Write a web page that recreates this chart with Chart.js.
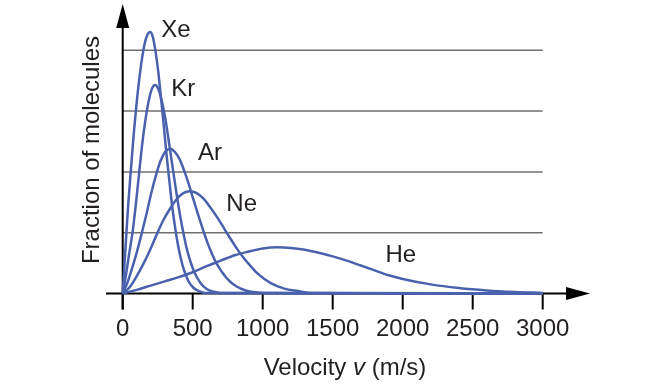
<!DOCTYPE html>
<html>
<head>
<meta charset="utf-8">
<script src="https://cdn.jsdelivr.net/npm/chart.js@4/dist/chart.umd.min.js"></script>
<style>
  html, body { margin: 0; padding: 0; background: #fff; }
  canvas { display: block; }
</style>
</head>
<body>
<canvas id="speedChart" width="650" height="386"></canvas>
<script>
// Velocity ticks on the x axis (m/s)
const velocityTicks = [0, 500, 1000, 1500, 2000, 2500, 3000];
// Horizontal reference lines (arbitrary fraction units)
const gridLevels = [1, 2, 3, 4];

const gases = ["Xe", "Kr", "Ar", "Ne", "He"];

// Velocity (m/s) vs fraction of molecules
const xeSpeeds = [0, 20, 39, 59, 78, 98, 117, 137, 156, 176, 195, 215, 234, 254, 273, 293, 312, 332, 351, 371, 390, 429, 468, 507, 546, 585, 3000];
const xeFractions = [0, 0.75, 1.45, 2.05, 2.6, 3.1, 3.5, 3.85, 4.1, 4.25, 4.3, 4.22, 3.99, 3.65, 3.23, 2.77, 2.31, 1.88, 1.48, 1.14, 0.86, 0.45, 0.21, 0.09, 0.04, 0.01, 0];

const krSpeeds = [0, 23, 46, 70, 93, 116, 139, 162, 186, 209, 232, 255, 278, 302, 325, 348, 371, 394, 418, 441, 464, 510, 557, 603, 650, 696, 3000];
const krFractions = [0, 0.3, 0.65, 1.0, 1.45, 1.95, 2.45, 2.85, 3.17, 3.37, 3.43, 3.36, 3.18, 2.91, 2.57, 2.21, 1.85, 1.5, 1.18, 0.91, 0.68, 0.36, 0.17, 0.07, 0.03, 0.01, 0];

const arSpeeds = [0, 34, 68, 101, 135, 169, 203, 237, 270, 304, 338, 372, 406, 439, 473, 507, 541, 575, 608, 642, 676, 744, 811, 879, 946, 1014, 3000];
const arFractions = [0, 0.18, 0.42, 0.68, 0.98, 1.3, 1.64, 1.94, 2.18, 2.33, 2.38, 2.33, 2.21, 2.02, 1.79, 1.53, 1.28, 1.04, 0.82, 0.63, 0.47, 0.25, 0.12, 0.05, 0.02, 0.01, 0];

const neSpeeds = [0, 48, 96, 144, 192, 241, 289, 337, 385, 433, 481, 529, 577, 625, 673, 722, 770, 818, 866, 914, 962, 1058, 1154, 1251, 1347, 1443, 3000];
const neFractions = [0, 0.1, 0.27, 0.47, 0.7, 0.96, 1.2, 1.39, 1.55, 1.65, 1.68, 1.65, 1.56, 1.42, 1.26, 1.08, 0.9, 0.73, 0.58, 0.45, 0.33, 0.17, 0.08, 0.04, 0.01, 0.01, 0];

const heSpeeds = [0, 100, 200, 300, 400, 500, 600, 700, 800, 900, 1000, 1100, 1200, 1300, 1400, 1500, 1600, 1700, 1800, 1900, 2000, 2200, 2400, 2600, 2800, 3000];
const heFractions = [0, 0.06, 0.13, 0.2, 0.27, 0.35, 0.45, 0.54, 0.63, 0.69, 0.74, 0.76, 0.75, 0.72, 0.67, 0.61, 0.54, 0.46, 0.38, 0.3, 0.24, 0.15, 0.09, 0.05, 0.025, 0.01];

const seriesSpeeds = [xeSpeeds, krSpeeds, arSpeeds, neSpeeds, heSpeeds];
const seriesFractions = [xeFractions, krFractions, arFractions, neFractions, heFractions];

const FONT = '"Liberation Sans", Arial, sans-serif';
const TEXT = "#231f20";
const CURVE = "#4a62ad";

// where each gas name sits, in chart units
const labelSpots = {
  Xe: [381, 4.32],
  Kr: [433, 3.35],
  Ar: [624, 2.3],
  Ne: [850, 1.47],
  He: [1986, 0.62]
};

const axesPlugin = {
  id: "axesPlugin",
  beforeDatasetsDraw(chart) {
    const { ctx, scales: { x, y } } = chart;
    const x0 = x.getPixelForValue(0);
    const y0 = y.getPixelForValue(0);

    ctx.save();
    // grid lines
    ctx.strokeStyle = "#6f6f6f";
    ctx.lineWidth = 1.5;
    gridLevels.forEach(level => {
      const py = y.getPixelForValue(level);
      ctx.beginPath();
      ctx.moveTo(x0, py);
      ctx.lineTo(x.getPixelForValue(3000), py);
      ctx.stroke();
    });

    // axes
    ctx.strokeStyle = "#000";
    ctx.fillStyle = "#000";
    ctx.lineWidth = 2;
    ctx.beginPath();
    ctx.moveTo(106, y0);
    ctx.lineTo(568, y0);
    ctx.moveTo(x0, y0 + 16);
    ctx.lineTo(x0, 26);
    ctx.stroke();

    // arrow heads
    ctx.beginPath();
    ctx.moveTo(590, y0);
    ctx.lineTo(566, y0 - 6.5);
    ctx.lineTo(566, y0 + 6.5);
    ctx.closePath();
    ctx.fill();
    ctx.beginPath();
    ctx.moveTo(x0, 4);
    ctx.lineTo(x0 - 6.5, 28);
    ctx.lineTo(x0 + 6.5, 28);
    ctx.closePath();
    ctx.fill();

    // ticks and tick labels
    ctx.font = "24px " + FONT;
    ctx.fillStyle = TEXT;
    ctx.textAlign = "center";
    ctx.textBaseline = "middle";
    velocityTicks.forEach(t => {
      const px = x.getPixelForValue(t);
      ctx.beginPath();
      ctx.moveTo(px, y0);
      ctx.lineTo(px, y0 + 16);
      ctx.stroke();
      ctx.fillText(String(t), px, 329);
    });
    ctx.restore();
  },
  afterDatasetsDraw(chart) {
    const { ctx, scales: { x, y } } = chart;
    ctx.save();
    ctx.fillStyle = TEXT;
    ctx.textBaseline = "middle";

    // gas names
    ctx.font = "24px " + FONT;
    ctx.textAlign = "center";
    gases.forEach(g => {
      const [v, f] = labelSpots[g];
      ctx.fillText(g, x.getPixelForValue(v), y.getPixelForValue(f));
    });

    // x title with italic v
    const parts = [["Velocity ", "24px "], ["v", "italic 24px "], [" (m/s)", "24px "]];
    let total = 0;
    parts.forEach(p => { ctx.font = p[1] + FONT; total += ctx.measureText(p[0]).width; });
    let cx = 345 - total / 2;
    ctx.textAlign = "left";
    parts.forEach(p => {
      ctx.font = p[1] + FONT;
      ctx.fillText(p[0], cx, 368);
      cx += ctx.measureText(p[0]).width;
    });

    // y title
    ctx.font = "24px " + FONT;
    ctx.textAlign = "center";
    ctx.translate(92, 150);
    ctx.rotate(-Math.PI / 2);
    ctx.fillText("Fraction of molecules", 0, 0);
    ctx.restore();
  }
};

new Chart(document.getElementById("speedChart"), {
  type: "line",
  data: {
    datasets: gases.map((g, i) => ({
      label: g,
      data: seriesSpeeds[i].map((v, k) => ({ x: v, y: seriesFractions[i][k] })),
      borderColor: CURVE,
      borderWidth: 2.5,
      pointRadius: 0,
      fill: false,
      cubicInterpolationMode: "monotone",
      clip: false
    }))
  },
  options: {
    responsive: false,
    animation: false,
    layout: { padding: { left: 122.7, right: 107.3, top: 4.7, bottom: 92.5 } },
    scales: {
      x: { type: "linear", min: 0, max: 3000, display: false },
      y: { min: 0, max: 4.75, display: false }
    },
    plugins: {
      legend: { display: false },
      tooltip: { enabled: false }
    }
  },
  plugins: [axesPlugin]
});
</script>
</body>
</html>
